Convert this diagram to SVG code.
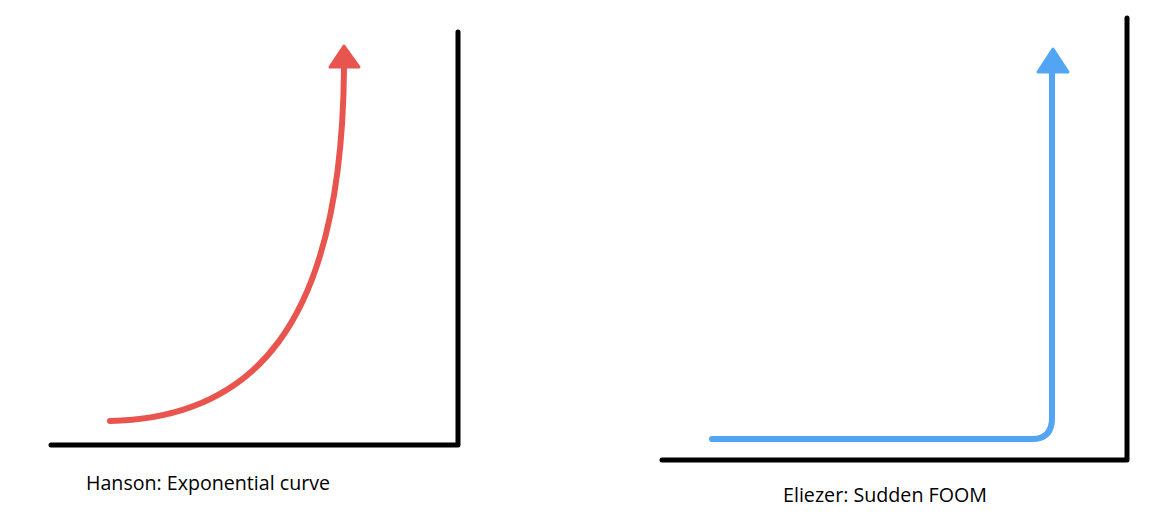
<svg xmlns="http://www.w3.org/2000/svg" width="1150" height="521" viewBox="0 0 1150 521">
<style>
.axis{fill:none;stroke:#000;stroke-width:5;stroke-linecap:round;stroke-linejoin:round}
.red{fill:none;stroke:#e8554f;stroke-width:6;stroke-linecap:round;stroke-linejoin:round}
.blue{fill:none;stroke:#52a5f3;stroke-width:6;stroke-linecap:round;stroke-linejoin:round}
.lbl{font-family:"Open Sans","Liberation Sans",sans-serif;font-size:20.5px;fill:#000}
</style>
<rect width="1150" height="521" fill="#fff"/>
<g id="left-chart">
<path class="axis" d="M51,445 H458 V32"/>
<text class="lbl" x="86" y="490" textLength="244" lengthAdjust="spacingAndGlyphs">Hanson: Exponential curve</text>
</g>
<g id="right-chart">
<path class="axis" d="M662,460 H1127 V18"/>
<text class="lbl" x="783" y="502" textLength="204" lengthAdjust="spacingAndGlyphs">Eliezer: Sudden FOOM</text>
</g>
<g id="connectors">
<path class="red" d="M110,421 C250,418 342,330 344,68"/>
<polygon fill="#e8554f" stroke="#e8554f" stroke-width="3" stroke-linejoin="round" points="344,46 330,67 359,67"/>
<path class="blue" d="M712,439 H1032 Q1052,439 1052,418 V72"/>
<polygon fill="#52a5f3" stroke="#52a5f3" stroke-width="3" stroke-linejoin="round" points="1053,49 1038,72 1068,72"/>
</g>
</svg>
